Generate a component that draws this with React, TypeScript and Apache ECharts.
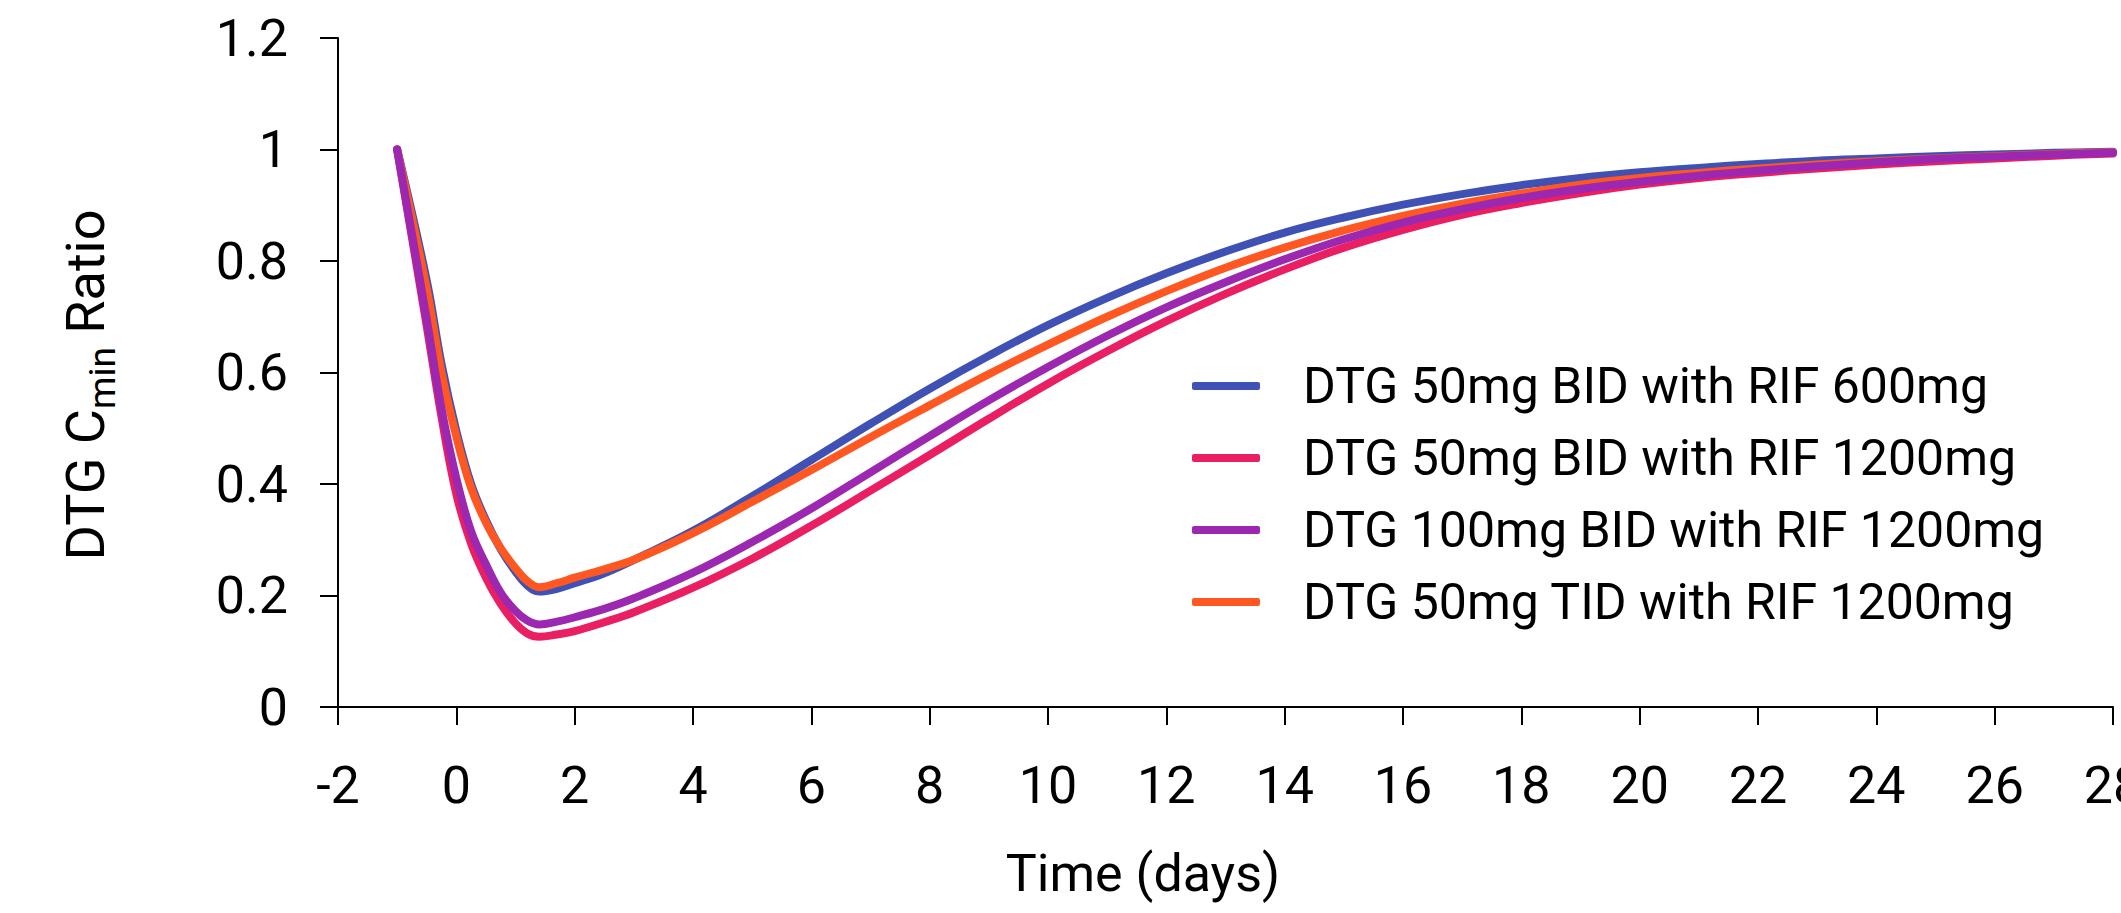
import React, { useEffect, useRef } from "react";
import * as echarts from "echarts";

const days = [-1, -0.5, -0.25, 0, 0.25, 0.5, 0.75, 1, 1.2, 1.4, 1.7, 2, 2.5, 3, 4, 5, 6, 7, 8, 9, 10, 11, 12, 13, 14, 15, 16, 17, 18, 19, 20, 21, 22, 23, 24, 25, 26, 27, 28];

const bid50rif600 = [1.0, 0.765, 0.615, 0.495, 0.4, 0.335, 0.283, 0.243, 0.218, 0.207, 0.212, 0.222, 0.24, 0.264, 0.316, 0.378, 0.443, 0.508, 0.571, 0.63, 0.685, 0.734, 0.778, 0.817, 0.851, 0.878, 0.901, 0.92, 0.936, 0.949, 0.959, 0.967, 0.974, 0.98, 0.984, 0.988, 0.991, 0.994, 0.996];
const bid50rif1200 = [1.0, 0.683, 0.52, 0.382, 0.293, 0.232, 0.185, 0.15, 0.132, 0.126, 0.13, 0.136, 0.152, 0.17, 0.214, 0.266, 0.325, 0.388, 0.452, 0.517, 0.58, 0.638, 0.692, 0.741, 0.785, 0.824, 0.856, 0.883, 0.904, 0.922, 0.937, 0.949, 0.958, 0.966, 0.973, 0.979, 0.984, 0.989, 0.993];
const bid100rif1200 = [1.0, 0.695, 0.535, 0.41, 0.315, 0.256, 0.205, 0.172, 0.155, 0.148, 0.153, 0.161, 0.176, 0.195, 0.241, 0.296, 0.356, 0.421, 0.486, 0.55, 0.61, 0.666, 0.717, 0.762, 0.803, 0.839, 0.869, 0.893, 0.913, 0.929, 0.942, 0.953, 0.962, 0.97, 0.977, 0.983, 0.987, 0.991, 0.994];
const tid50rif1200 = [1.0, 0.75, 0.6, 0.485, 0.393, 0.331, 0.285, 0.249, 0.226, 0.215, 0.222, 0.232, 0.247, 0.264, 0.312, 0.368, 0.425, 0.484, 0.541, 0.597, 0.65, 0.7, 0.746, 0.788, 0.824, 0.855, 0.881, 0.903, 0.921, 0.937, 0.949, 0.958, 0.966, 0.973, 0.979, 0.984, 0.988, 0.992, 0.995];

const seriesNames = [
  "DTG 50mg BID with RIF 600mg",
  "DTG 50mg BID with RIF 1200mg",
  "DTG 100mg BID with RIF 1200mg",
  "DTG 50mg TID with RIF 1200mg",
];
const seriesColors = ["#3F51B5", "#E91E63", "#9C27B0", "#FF5722"];
const seriesValues = [bid50rif600, bid50rif1200, bid100rif1200, tid50rif1200];
// drawing order (last on top)
const drawOrder = [0, 1, 3, 2];

const xTitle = "Time (days)";
const yTitleRich = "{m|DTG C}{s|min}{m| Ratio}";

export default function App() {
  const ref = useRef<HTMLDivElement>(null);
  useEffect(() => {
    if (!ref.current) return;
    const chart = echarts.init(ref.current, undefined, { renderer: "svg" });
    const font = "Roboto";
    const axisCommon = {
      axisLine: { show: true, onZero: false, lineStyle: { color: "#000", width: 2 } },
      axisTick: { show: true, inside: false, length: 18, lineStyle: { color: "#000", width: 2 } },
      splitLine: { show: false },
    };
    chart.setOption({
      animation: false,
      backgroundColor: "#fff",
      grid: { left: 338, right: 8, top: 38, bottom: 206, containLabel: false, outerBoundsMode: "none" },
      xAxis: {
        type: "value",
        min: -2,
        max: 28,
        interval: 2,
        ...axisCommon,
        axisLabel: { color: "#000", fontSize: 52, fontFamily: font, margin: 52, showMaxLabel: true },
      },
      yAxis: {
        type: "value",
        min: 0,
        max: 1.2,
        interval: 0.2,
        ...axisCommon,
        axisLabel: { color: "#000", fontSize: 52, fontFamily: font, margin: 50 },
      },
      legend: {
        orient: "vertical",
        left: 1192,
        top: 361,
        padding: 0,
        itemWidth: 68,
        itemHeight: 8,
        itemGap: 22,
        icon: "roundRect",
        data: seriesNames,
        textStyle: { fontSize: 50, fontFamily: font, color: "#000", lineHeight: 50, padding: [0, 0, 0, 38] },
      },
      graphic: [
        {
          type: "text",
          x: 1143,
          y: 873,
          style: {
            text: xTitle,
            fontSize: 52,
            fontFamily: font,
            fill: "#000",
            align: "center",
            verticalAlign: "middle",
            textAlign: "center",
            textVerticalAlign: "middle",
          },
        },
        {
          type: "text",
          x: 85,
          y: 385,
          rotation: Math.PI / 2,
          style: {
            text: yTitleRich,
            fill: "#000",
            align: "center",
            verticalAlign: "middle",
            textAlign: "center",
            textVerticalAlign: "middle",
            rich: {
              m: { fontSize: 54, fontFamily: font, fill: "#000", lineHeight: 72 },
              s: { fontSize: 37, fontFamily: font, fill: "#000", lineHeight: 37, verticalAlign: "bottom" },
            },
          },
        },
      ],
      series: drawOrder.map((i) => ({
        name: seriesNames[i],
        type: "line",
        data: days.map((d, k) => [d, seriesValues[i][k]]),
        showSymbol: false,
        symbol: "none",
        smooth: 0.4,
        color: seriesColors[i],
        lineStyle: { width: 8, color: seriesColors[i], cap: "round", join: "round" },
        itemStyle: { color: seriesColors[i] },
      })),
    });
    return () => chart.dispose();
  }, []);
  return (
    <div
      ref={ref}
      style={{ position: "fixed", left: 0, top: 0, width: 2121, height: 913, background: "#fff" }}
    />
  );
}
